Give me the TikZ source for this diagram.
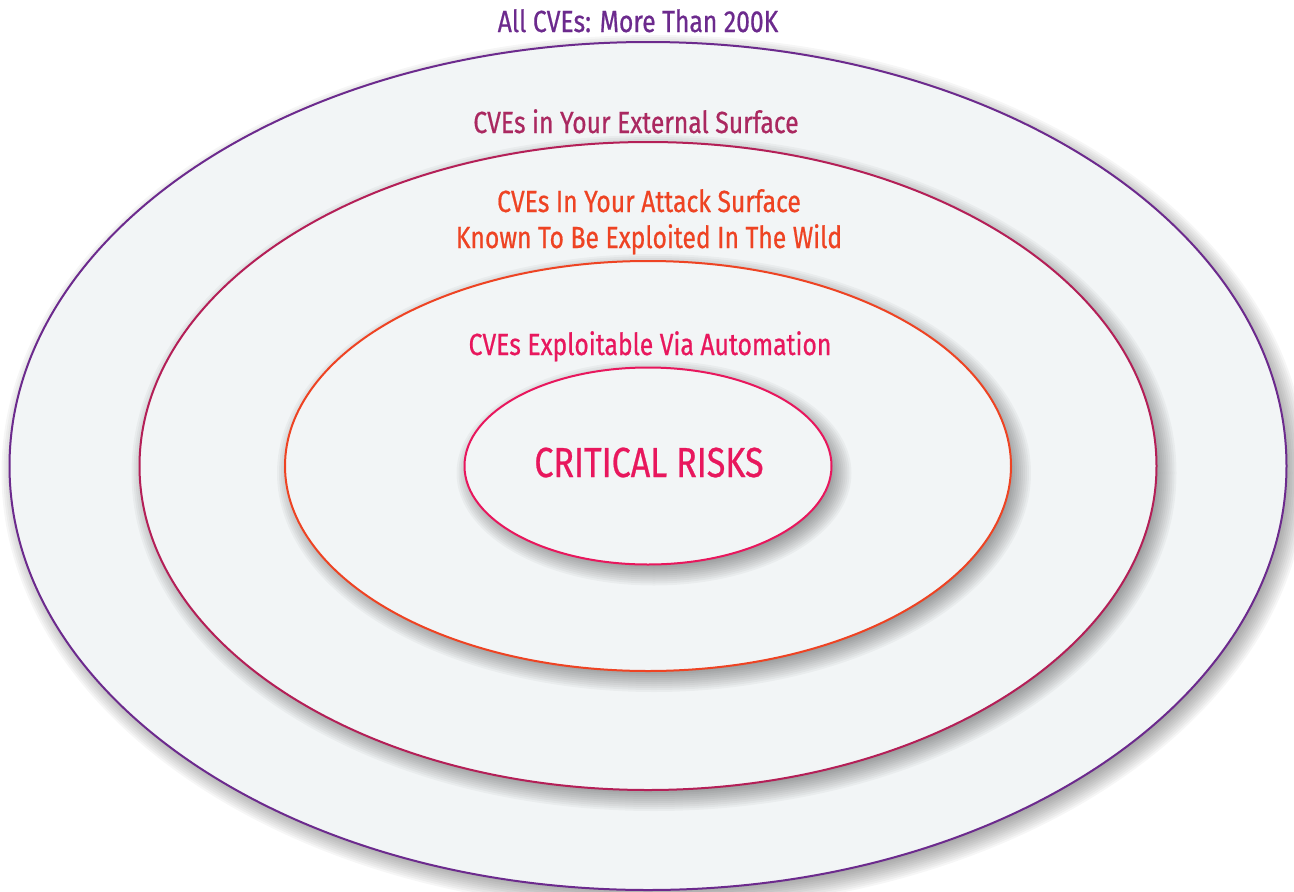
\documentclass[tikz,border=0pt]{standalone}
\usepackage{fontspec}
\newfontfamily\cvefont{Fira Sans}[FakeStretch=0.81, FakeBold=0.6]
\usetikzlibrary{shapes.geometric}
\definecolor{allcol}{HTML}{6C2A8D}
\definecolor{extcol}{HTML}{B41F57}
\definecolor{extlabel}{HTML}{AA2860}
\definecolor{attcol}{HTML}{EE4323}
\definecolor{autocol}{HTML}{E8175D}
\definecolor{ringfill}{HTML}{F2F5F6}
\tikzset{
  ring/.style={ellipse, fill=ringfill, line width=2pt, inner sep=0pt},
  ringshade/.style={fill=black, opacity=0.035},
  cvetext/.style={anchor=base, inner sep=0pt, font=\cvefont\fontsize{30.5}{37}\selectfont},
}

\begin{document}
\begin{tikzpicture}[x=1pt,y=-1pt]
  \useasboundingbox (0,0) rectangle (1294,892);
  % rings, outside in, each with a soft shadow below right
  \foreach \ringname/\rx/\ry/\ringcol in {allcves/638.5/424/allcol, extsurf/508.5/324/extcol,
      attsurf/363/205/attcol, critical/183.5/98.5/autocol}{
    \foreach \k in {1,...,16}
      \fill[ringshade] (654,473) ellipse ({\rx+16-2*\k} and {\ry+16-2*\k});
    \node[ring, draw=\ringcol, minimum width={2*\rx}, minimum height={2*\ry}] (\ringname) at (648,466) {};
  }
  % labels
  \node[cvetext, text=allcol] (allcvestxt) at (638,32) {All CVEs: More Than 200K};
  \node[cvetext, text=extlabel] (extsurftxt) at (636,133) {CVEs in Your External Surface};
  \node[cvetext, text=attcol] (attsurftxt) at (649,212) {CVEs In Your Attack Surface};
  \node[cvetext, text=attcol] (wildtxt) at (649,248) {Known To Be Exploited In The Wild};
  \node[cvetext, text=autocol] (autotxt) at (650,355) {CVEs Exploitable Via Automation};
  \node[cvetext, text=autocol, font=\cvefont\fontsize{42}{50}\selectfont] (criticaltxt) at (649,477) {CRITICAL RISKS};
\end{tikzpicture}
\end{document}
